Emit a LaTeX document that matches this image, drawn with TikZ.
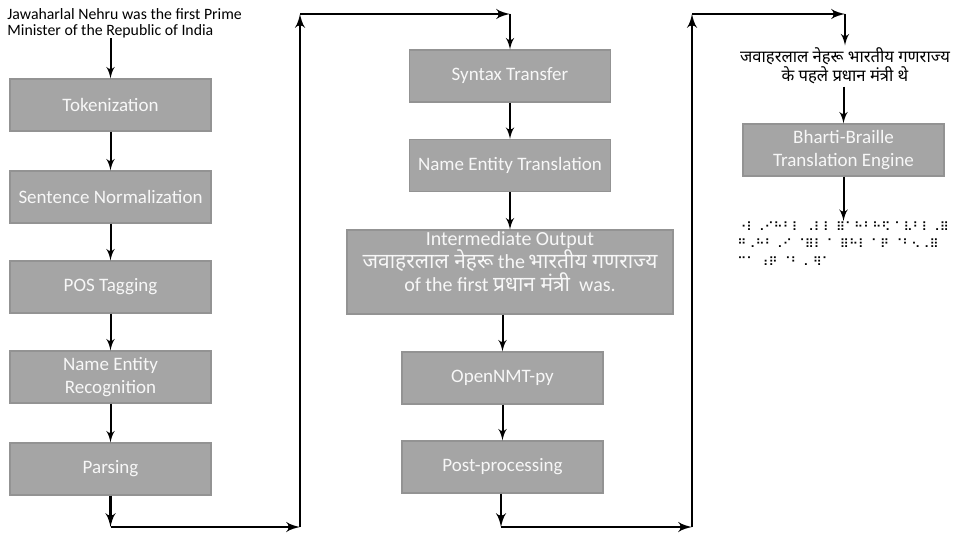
\documentclass[tikz,border=0pt]{standalone}
\usepackage{fontspec}
\setmainfont{Carlito}
\newfontfamily\hindi[Script=Devanagari]{Noto Sans}
\newfontfamily\braillefont{DejaVu Sans}
\usetikzlibrary{arrows}

\definecolor{boxgray}{HTML}{A5A5A5}
\definecolor{boxline}{HTML}{939393}
\definecolor{boxtext}{HTML}{F7F7F7}

\begin{document}
\begin{tikzpicture}[x=0.5pt,y=-0.5pt]

\tikzset{box/.style = {shape=rectangle, fill=boxgray, draw=boxline, line width=0.6pt,
  text=boxtext, minimum width=100.5pt, minimum height=26pt, inner sep=1pt, align=center,
  font=\fontsize{9.5}{11.5}\selectfont}}
\tikzset{edge/.style = {->, > = latex', line width=1pt}}
\tikzset{route/.style = {->, > = latex', line width=1.4pt}}

\useasboundingbox (0,0) rectangle (957,535);

%input and first column
\node[align=left, anchor=west, inner sep=0pt, font=\fontsize{7.9}{8}\selectfont] (input) at (7,23)
  {Jawaharlal Nehru was the first Prime\\Minister of the Republic of India};
\node[box] (tok) at (110.5,105) {Tokenization};
\node[box] (norm) at (110.5,197) {Sentence Normalization};
\node[box] (pos) at (110.5,287) {POS Tagging};
\node[box] (ner) at (110.5,377) {Name Entity\\Recognition};
\node[box] (parse) at (110.5,469) {Parsing};

%second column
\node[box, minimum width=163pt, minimum height=41pt, font=\fontsize{10}{11.5}\selectfont] (inter) at (510,272)
  {Intermediate Output\\
   {\hindi\fontsize{10.5}{11.5}\selectfont जवाहरलाल नेहरू} the\,{\hindi\fontsize{10.5}{11.5}\selectfont भारतीय गणराज्य}\\
   of the first {\hindi\fontsize{10.5}{11.5}\selectfont प्रधान मंत्री}\ \ was.\\[-1.5pt]};
\node[box] (syntax) at (510,76) {Syntax Transfer};
\node[box] (net) at (510,165.5) {Name Entity Translation};
\node[box] (nmt) at (502.5,378) {OpenNMT-py};
\node[box] (post) at (502.5,467) {Post-processing};

%third column
\node[align=center, inner sep=1pt, font=\hindi\fontsize{8.3}{8.5}\selectfont] (hindi) at (845,66)
  {जवाहरलाल नेहरू भारतीय गणराज्य\\के पहले प्रधान मंत्री थे};
\node[box] (bharti) at (843.5,150) {Bharti-Braille\\Translation Engine};
\node[align=left, anchor=north west, inner sep=0pt, font=\braillefont\fontsize{6.2}{8.75}\selectfont] (braille) at (737,221)
  {⠐⠇⠠⠊⠓⠃⠇ ⠠⠇⠇ ⠿⠁⠓⠃⠓⠫ ⠁⠧⠃⠇⠠⠿\\
   ⠛⠠⠓⠃⠠⠊ ⠈⠿⠇ ⠁ ⠿⠓⠇ ⠁⠟ ⠈⠃⠢⠠⠿\\
   ⠉⠁ ⠰⠟ ⠈⠃⠠ ⠻⠁};

%corners of the connectors
\coordinate (a1) at (110.5,527);
\coordinate (a2) at (300,527);
\coordinate (a3) at (300,14);
\coordinate (a4) at (510,14);
\coordinate (b1) at (501,527);
\coordinate (b2) at (692,527);
\coordinate (b3) at (692,14);
\coordinate (b4) at (845,14);

%edges
\draw[edge] (input.south -| tok.north) -- (tok);
\draw[edge] (tok) -- (norm);
\draw[edge] (norm) -- (pos);
\draw[edge] (pos) -- (ner);
\draw[edge] (ner) -- (parse);
\draw[route] (parse) -- (a1);
\draw[route] (a1) -- (a2);
\draw[route] (a2) -- (a3);
\draw[route] (a3) -- (a4);
\draw[edge] (a4) -- (syntax);
\draw[edge] (syntax) -- (net);
\draw[edge] (net) -- (inter);
\draw[edge] (inter.south -| nmt.north) -- (nmt);
\draw[edge] (nmt) -- (post);
\draw[route] (post.south -| b1) -- (b1);
\draw[route] (b1) -- (b2);
\draw[route] (b2) -- (b3);
\draw[route] (b3) -- (b4);
\draw[edge] (b4) -- (hindi);
\draw[edge] (hindi.south -| bharti.north) -- (bharti);
\draw[edge] (bharti) -- (bharti.south |- braille.north);

\end{tikzpicture}
\end{document}
